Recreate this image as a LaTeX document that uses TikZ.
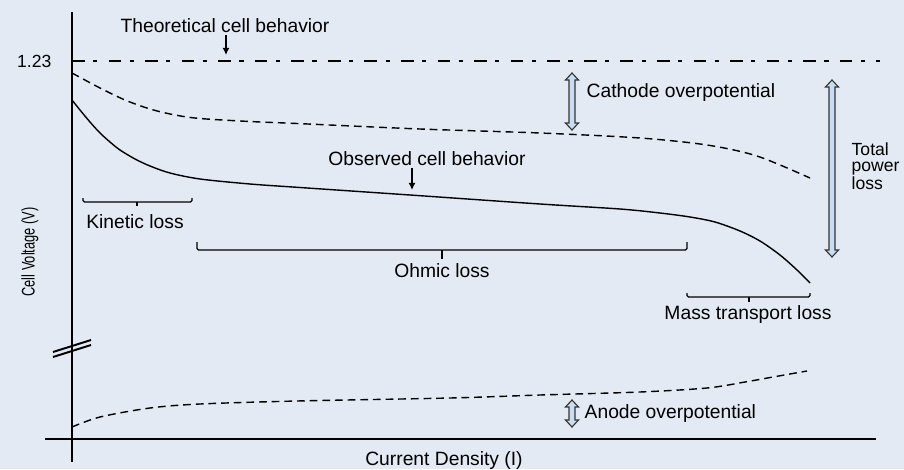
\documentclass[tikz,border=0pt]{standalone}
\usepackage{fontspec}
\setmainfont{Liberation Sans}
\usetikzlibrary{arrows.meta,positioning}
\definecolor{bgblue}{HTML}{E3EAF4}
\definecolor{arrowblue}{HTML}{C9DCF0}
\tikzset{
  lbl/.style={font=\fontsize{13.7}{11}\selectfont, inner sep=1pt},
  axis/.style={line width=2pt},
  curve/.style={line width=1pt},
  dashcurve/.style={line width=1pt, dash pattern=on 5.5pt off 3.5pt},
  theory/.style={line width=1.4pt, dash pattern=on 9pt off 6pt on 3pt off 8pt},
  brace/.style={line width=0.9pt, rounded corners=1pt},
  pointer/.style={line width=1pt, -{Latex[length=5pt,width=5pt]}},
  bigarrow/.style={draw=black!80, line width=0.8pt, fill=arrowblue, line join=miter}
}
% vertical double block arrow: x, top y, bottom y
\newcommand{\lossarrow}[3]{%
  \draw[bigarrow] (#1,#2) -- ({#1+6.5},{#2+7}) -- ({#1+3},{#2+7}) -- ({#1+3},{#3-7})
    -- ({#1+6.5},{#3-7}) -- (#1,#3) -- ({#1-6.5},{#3-7}) -- ({#1-3},{#3-7})
    -- ({#1-3},{#2+7}) -- ({#1-6.5},{#2+7}) -- cycle;}
% bracket: left x, right x, top y, line y, middle x, tick y
\newcommand{\lossbrace}[6]{%
  \draw[brace] (#1,#3) -- (#1,#4) -- (#2,#4) -- (#2,#3);
  \draw[brace] (#5,#4) -- (#5,#6);}

\begin{document}
\begin{tikzpicture}[x=0.025cm,y=-0.025cm]
  \fill[bgblue] (0,0) rectangle (904,469);
  \useasboundingbox (0,0) rectangle (904,469);

  % axes
  \coordinate (ytop) at (72,12);
  \coordinate (ybot) at (72,462);
  \coordinate (xleft) at (45,439);
  \coordinate (xright) at (876,439);
  \draw[axis] (ybot) -- (ytop);
  \draw[axis] (xleft) -- (xright);
  \draw[line width=1.4pt] (53,352) -- (91,340) (53,357) -- (91,345);
  \node[lbl, font=\fontsize{13}{13}\selectfont, rotate=90] (ylab) at (30,252)
    {\scalebox{0.7}[1]{Cell Voltage (V)}};
  \node[lbl] (xlab) at (444,461) {Current Density (I)};
  \node[lbl, font=\fontsize{12.5}{13}\selectfont, anchor=east] (v123) at (53,61) {1.23};

  % theoretical line
  \coordinate (th0) at (72,61);
  \coordinate (th1) at (880,61);
  \draw[theory] (th0) -- (th1);
  \node[lbl] (theo) at (225,26) {Theoretical cell behavior};
  \coordinate (theotip) at (226,55);
  \draw[pointer] (theo.south -| theotip) -- (theotip);

  % cathode curve
  \draw[dashcurve] plot[smooth] coordinates {(72,73) (100,88) (125,100) (150,109)
    (175,115) (200,118.5) (250,121.5) (297,123.5) (420,129) (540,133) (640,138)
    (707,145) (757,156) (810,178)};

  % observed curve
  \draw[curve] plot[smooth] coordinates {(72,100) (80,110) (90,122) (100,133)
    (110,142) (120,150) (135,159) (150,166) (170,173) (200,179) (250,184)
    (300,187.5) (410,195) (540,204) (620,209) (660,213) (690,217) (715,222)
    (740,231) (760,241) (780,255) (797,270) (810,283)};
  \node[lbl] (obs) at (427,159) {Observed cell behavior};
  \coordinate (obstip) at (412,190);
  \draw[pointer] (obs.south -| obstip) -- (obstip);

  % anode curve
  \draw[dashcurve] plot[smooth] coordinates {(72,427) (100,417) (150,408) (200,404)
    (297,401) (450,398) (540,395) (640,392) (707,388) (745,382) (773,377) (807,371)};

  % losses
  \lossbrace{83}{192}{198}{202}{137}{206}
  \node[lbl] (kin) at (135,222) {Kinetic loss};
  \lossbrace{197}{687}{242}{250}{442}{259}
  \node[lbl] (ohm) at (442,271) {Ohmic loss};
  \lossbrace{687}{810}{293}{297}{749}{302}
  \node[lbl] (mass) at (748,315) {Mass transport loss};

  \lossarrow{572}{73}{130}
  \node[lbl, anchor=west] (cath) at (585,93) {Cathode overpotential};
  \lossarrow{572}{400}{427}
  \node[lbl, anchor=west] (anode) at (583,414) {Anode overpotential};
  \lossarrow{832}{80}{257}
  \node[lbl, font=\fontsize{12.5}{11.3}\selectfont, anchor=west, align=left] (total)
    at (850,166) {Total\\power\\loss};
\end{tikzpicture}
\end{document}
